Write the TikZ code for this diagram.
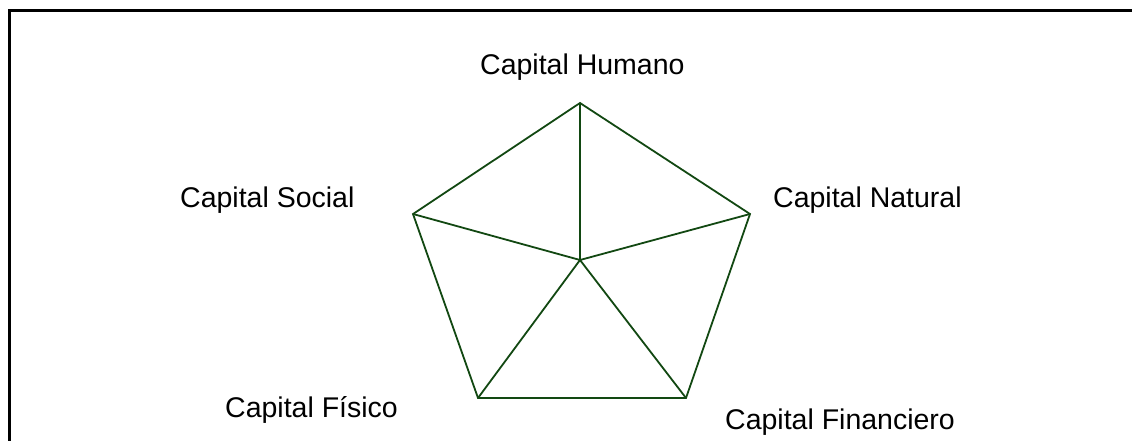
\documentclass[tikz,border=0pt]{standalone}
\usepackage{fontspec}
\setmainfont{Liberation Sans}
\definecolor{pentgreen}{RGB}{18,72,18}
\begin{document}
\begin{tikzpicture}[x=1pt,y=-1pt,
  edge/.style={draw=pentgreen,line width=1.8pt,line join=miter},
  lbl/.style={anchor=base west,inner sep=0pt,font=\fontsize{28.5}{34}\selectfont}]
\useasboundingbox (0,0) rectangle (1132,441);
\draw[line width=3pt] (9,441) -- (9,11) -- (1132,11);
\coordinate (T) at (580,103);
\coordinate (UL) at (413,214);
\coordinate (UR) at (750,214);
\coordinate (LL) at (478,398);
\coordinate (LR) at (686,398);
\coordinate (C) at (580,260);
\draw[edge] (T) -- (UR) -- (LR) -- (LL) -- (UL) -- cycle;
\draw[edge] (T) -- (C) (UR) -- (C) (UL) -- (C) (LL) -- (C) -- (LR);
\node[lbl] (h) at (480,75) {Capital Humano};
\node[lbl] (s) at (180,207) {Capital Social};
\node[lbl] (n) at (773,207) {Capital Natural};
\node[lbl] (f) at (225,417) {Capital Físico};
\node[lbl] (fi) at (725,429) {Capital Financiero};
\end{tikzpicture}
\end{document}
